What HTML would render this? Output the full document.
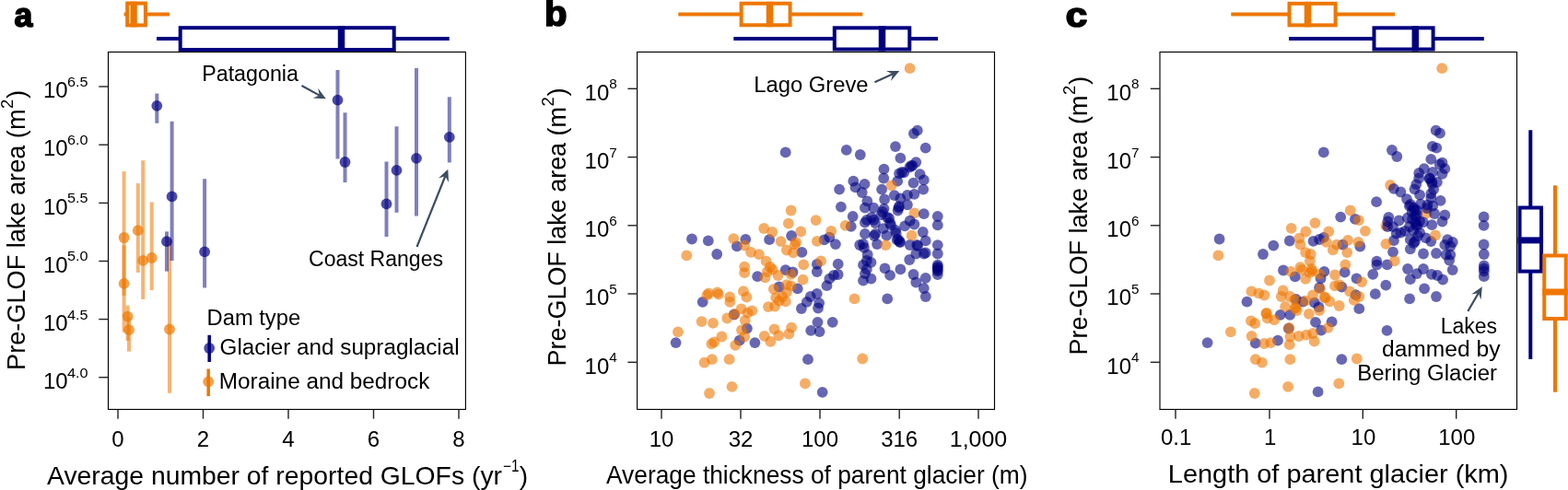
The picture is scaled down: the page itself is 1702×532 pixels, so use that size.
<!DOCTYPE html>
<html><head><meta charset="utf-8"><title>Figure</title>
<style>
html,body{margin:0;padding:0;background:#fff;overflow:hidden;}
svg{display:block;}
svg text{font-family:"Liberation Sans", Arial, sans-serif;}
</style></head>
<body>
<svg width="1702" height="532" viewBox="0 0 1702 532">
<rect x="0" y="0" width="1702" height="532" fill="#fff"/>
<rect x="117.5" y="56.5" width="387.9" height="388.0" fill="none" stroke="#000" stroke-width="1.15"/>
<rect x="691.6" y="56.5" width="387.9" height="388.0" fill="none" stroke="#000" stroke-width="1.15"/>
<rect x="1259.0" y="56.5" width="387.5" height="388.0" fill="none" stroke="#000" stroke-width="1.15"/>
<line x1="107.3" y1="94.0" x2="117.5" y2="94.0" stroke="#222" stroke-width="1.4"/>
<line x1="107.3" y1="157.2" x2="117.5" y2="157.2" stroke="#222" stroke-width="1.4"/>
<line x1="107.3" y1="220.4" x2="117.5" y2="220.4" stroke="#222" stroke-width="1.4"/>
<line x1="107.3" y1="283.5" x2="117.5" y2="283.5" stroke="#222" stroke-width="1.4"/>
<line x1="107.3" y1="346.6" x2="117.5" y2="346.6" stroke="#222" stroke-width="1.4"/>
<line x1="107.3" y1="409.7" x2="117.5" y2="409.7" stroke="#222" stroke-width="1.4"/>
<line x1="681.4" y1="96.3" x2="691.6" y2="96.3" stroke="#222" stroke-width="1.4"/>
<line x1="681.4" y1="170.6" x2="691.6" y2="170.6" stroke="#222" stroke-width="1.4"/>
<line x1="681.4" y1="244.8" x2="691.6" y2="244.8" stroke="#222" stroke-width="1.4"/>
<line x1="681.4" y1="319.0" x2="691.6" y2="319.0" stroke="#222" stroke-width="1.4"/>
<line x1="681.4" y1="393.3" x2="691.6" y2="393.3" stroke="#222" stroke-width="1.4"/>
<line x1="1248.8" y1="96.3" x2="1259.0" y2="96.3" stroke="#222" stroke-width="1.4"/>
<line x1="1248.8" y1="170.6" x2="1259.0" y2="170.6" stroke="#222" stroke-width="1.4"/>
<line x1="1248.8" y1="244.8" x2="1259.0" y2="244.8" stroke="#222" stroke-width="1.4"/>
<line x1="1248.8" y1="319.0" x2="1259.0" y2="319.0" stroke="#222" stroke-width="1.4"/>
<line x1="1248.8" y1="393.3" x2="1259.0" y2="393.3" stroke="#222" stroke-width="1.4"/>
<line x1="128.0" y1="444.5" x2="128.0" y2="454.7" stroke="#222" stroke-width="1.4"/>
<line x1="220.5" y1="444.5" x2="220.5" y2="454.7" stroke="#222" stroke-width="1.4"/>
<line x1="313.0" y1="444.5" x2="313.0" y2="454.7" stroke="#222" stroke-width="1.4"/>
<line x1="405.5" y1="444.5" x2="405.5" y2="454.7" stroke="#222" stroke-width="1.4"/>
<line x1="498.0" y1="444.5" x2="498.0" y2="454.7" stroke="#222" stroke-width="1.4"/>
<line x1="718.0" y1="444.5" x2="718.0" y2="454.7" stroke="#222" stroke-width="1.4"/>
<line x1="804.0" y1="444.5" x2="804.0" y2="454.7" stroke="#222" stroke-width="1.4"/>
<line x1="890.0" y1="444.5" x2="890.0" y2="454.7" stroke="#222" stroke-width="1.4"/>
<line x1="976.2" y1="444.5" x2="976.2" y2="454.7" stroke="#222" stroke-width="1.4"/>
<line x1="1062.0" y1="444.5" x2="1062.0" y2="454.7" stroke="#222" stroke-width="1.4"/>
<line x1="1276.0" y1="444.5" x2="1276.0" y2="454.7" stroke="#222" stroke-width="1.4"/>
<line x1="1378.0" y1="444.5" x2="1378.0" y2="454.7" stroke="#222" stroke-width="1.4"/>
<line x1="1479.3" y1="444.5" x2="1479.3" y2="454.7" stroke="#222" stroke-width="1.4"/>
<line x1="1580.7" y1="444.5" x2="1580.7" y2="454.7" stroke="#222" stroke-width="1.4"/>
<text x="128.0" y="485.0" font-size="24" text-anchor="middle" fill="#000">0</text>
<text x="220.5" y="485.0" font-size="24" text-anchor="middle" fill="#000">2</text>
<text x="313.0" y="485.0" font-size="24" text-anchor="middle" fill="#000">4</text>
<text x="405.5" y="485.0" font-size="24" text-anchor="middle" fill="#000">6</text>
<text x="498.0" y="485.0" font-size="24" text-anchor="middle" fill="#000">8</text>
<text x="718.0" y="484.8" font-size="24" text-anchor="middle" fill="#000">10</text>
<text x="804.0" y="484.8" font-size="24" text-anchor="middle" fill="#000">32</text>
<text x="890.0" y="484.8" font-size="24" text-anchor="middle" fill="#000">100</text>
<text x="976.2" y="484.8" font-size="24" text-anchor="middle" fill="#000">316</text>
<text x="1062.0" y="484.8" font-size="24" text-anchor="middle" textLength="62.5" lengthAdjust="spacingAndGlyphs" fill="#000">1,000</text>
<text x="1276.6" y="482.9" font-size="24" text-anchor="middle" fill="#000">0.1</text>
<text x="1378.6" y="482.9" font-size="24" text-anchor="middle" fill="#000">1</text>
<text x="1479.8999999999999" y="482.9" font-size="24" text-anchor="middle" fill="#000">10</text>
<text x="1581.3" y="482.9" font-size="24" text-anchor="middle" fill="#000">100</text>
<text x="95.5" y="93.9" font-size="15.3" text-anchor="end" textLength="22.6" lengthAdjust="spacingAndGlyphs">6.5</text>
<text x="73.60000000000001" y="106.2" font-size="24" text-anchor="end">10</text>
<text x="95.5" y="157.1" font-size="15.3" text-anchor="end" textLength="22.6" lengthAdjust="spacingAndGlyphs">6.0</text>
<text x="73.60000000000001" y="169.39999999999998" font-size="24" text-anchor="end">10</text>
<text x="95.5" y="220.3" font-size="15.3" text-anchor="end" textLength="22.6" lengthAdjust="spacingAndGlyphs">5.5</text>
<text x="73.60000000000001" y="232.6" font-size="24" text-anchor="end">10</text>
<text x="95.5" y="283.4" font-size="15.3" text-anchor="end" textLength="22.6" lengthAdjust="spacingAndGlyphs">5.0</text>
<text x="73.60000000000001" y="295.7" font-size="24" text-anchor="end">10</text>
<text x="95.5" y="346.5" font-size="15.3" text-anchor="end" textLength="22.6" lengthAdjust="spacingAndGlyphs">4.5</text>
<text x="73.60000000000001" y="358.8" font-size="24" text-anchor="end">10</text>
<text x="95.5" y="409.59999999999997" font-size="15.3" text-anchor="end" textLength="22.6" lengthAdjust="spacingAndGlyphs">4.0</text>
<text x="73.60000000000001" y="421.9" font-size="24" text-anchor="end">10</text>
<text x="669.8" y="96.2" font-size="15.3" text-anchor="end">8</text>
<text x="661.3" y="108.5" font-size="24" text-anchor="end">10</text>
<text x="669.8" y="170.5" font-size="15.3" text-anchor="end">7</text>
<text x="661.3" y="182.79999999999998" font-size="24" text-anchor="end">10</text>
<text x="669.8" y="244.70000000000002" font-size="15.3" text-anchor="end">6</text>
<text x="661.3" y="257.0" font-size="24" text-anchor="end">10</text>
<text x="669.8" y="318.9" font-size="15.3" text-anchor="end">5</text>
<text x="661.3" y="331.2" font-size="24" text-anchor="end">10</text>
<text x="669.8" y="393.2" font-size="15.3" text-anchor="end">4</text>
<text x="661.3" y="405.5" font-size="24" text-anchor="end">10</text>
<text x="1236.5" y="96.2" font-size="15.3" text-anchor="end">8</text>
<text x="1228.0" y="108.5" font-size="24" text-anchor="end">10</text>
<text x="1236.5" y="170.5" font-size="15.3" text-anchor="end">7</text>
<text x="1228.0" y="182.79999999999998" font-size="24" text-anchor="end">10</text>
<text x="1236.5" y="244.70000000000002" font-size="15.3" text-anchor="end">6</text>
<text x="1228.0" y="257.0" font-size="24" text-anchor="end">10</text>
<text x="1236.5" y="318.9" font-size="15.3" text-anchor="end">5</text>
<text x="1228.0" y="331.2" font-size="24" text-anchor="end">10</text>
<text x="1236.5" y="393.2" font-size="15.3" text-anchor="end">4</text>
<text x="1228.0" y="405.5" font-size="24" text-anchor="end">10</text>
<text x="51.0" y="525.8" font-size="28" textLength="494.0" lengthAdjust="spacingAndGlyphs" fill="#000">Average number of reported GLOFs (yr</text>
<text x="546.0" y="512.0" font-size="17.5" textLength="17.5" lengthAdjust="spacingAndGlyphs" fill="#000">−1</text>
<text x="563.8" y="525.8" font-size="28" fill="#000">)</text>
<text x="658.0" y="524.8" font-size="28" textLength="457.5" lengthAdjust="spacingAndGlyphs" fill="#000">Average thickness of parent glacier (m)</text>
<text x="1267.8" y="524.3" font-size="28" textLength="369.70000000000005" lengthAdjust="spacingAndGlyphs" fill="#000">Length of parent glacier (km)</text>
<g transform="translate(27.0,401.9) rotate(-90)">
<text x="0" y="0" font-size="28" textLength="283.4" lengthAdjust="spacingAndGlyphs" fill="#000">Pre-GLOF lake area (m</text>
<text x="284.0" y="-13.0" font-size="18.5" fill="#000">2</text>
<text x="295.0" y="0" font-size="28" fill="#000">)</text>
</g>
<g transform="translate(614.0,397.4) rotate(-90)">
<text x="0" y="0" font-size="28" textLength="281.4" lengthAdjust="spacingAndGlyphs" fill="#000">Pre-GLOF lake area (m</text>
<text x="282.0" y="-13.0" font-size="18.5" fill="#000">2</text>
<text x="293.0" y="0" font-size="28" fill="#000">)</text>
</g>
<g transform="translate(1180.3,385.6) rotate(-90)">
<text x="0" y="0" font-size="28" textLength="282.1" lengthAdjust="spacingAndGlyphs" fill="#000">Pre-GLOF lake area (m</text>
<text x="282.70000000000005" y="-13.0" font-size="18.5" fill="#000">2</text>
<text x="293.70000000000005" y="0" font-size="28" fill="#000">)</text>
</g>
<text x="15.6" y="28.7" font-size="36" font-weight="bold" textLength="19.8" lengthAdjust="spacingAndGlyphs" fill="#000" stroke="#000" stroke-width="1.7" stroke-linejoin="round">a</text>
<text x="591.0" y="28.3" font-size="38" font-weight="bold" textLength="24.5" lengthAdjust="spacingAndGlyphs" fill="#000" stroke="#000" stroke-width="1.7" stroke-linejoin="round">b</text>
<text x="1156.8" y="28.7" font-size="36" font-weight="bold" textLength="23.5" lengthAdjust="spacingAndGlyphs" fill="#000" stroke="#000" stroke-width="1.7" stroke-linejoin="round">c</text>
<line x1="134.6" y1="15.5" x2="183.9" y2="15.5" stroke="#ee7700" stroke-width="4.0"/>
<rect x="138.2" y="3.5999999999999996" width="19.700000000000017" height="23.8" fill="#fff" stroke="#ee7700" stroke-width="4.0"/>
<rect x="141.25" y="1.5999999999999996" width="7.5" height="27.8" fill="#ee7700"/>
<rect x="140.2" y="5.8" width="1.1" height="19.6" fill="#fff"/>
<line x1="170.0" y1="42.1" x2="487.7" y2="42.1" stroke="#000080" stroke-width="4.0"/>
<rect x="195.7" y="30.200000000000003" width="232.0" height="23.8" fill="#fff" stroke="#000080" stroke-width="4.0"/>
<rect x="366.75" y="28.200000000000003" width="7.5" height="27.8" fill="#000080"/>
<line x1="736.3" y1="15.5" x2="936.3" y2="15.5" stroke="#ee7700" stroke-width="4.0"/>
<rect x="804.6" y="3.75" width="53.0" height="23.5" fill="#fff" stroke="#ee7700" stroke-width="4.0"/>
<rect x="831.75" y="1.75" width="7.5" height="27.5" fill="#ee7700"/>
<line x1="796.3" y1="41.9" x2="1018.0" y2="41.9" stroke="#000080" stroke-width="4.0"/>
<rect x="905.8" y="30.299999999999997" width="81.5" height="23.2" fill="#fff" stroke="#000080" stroke-width="4.0"/>
<rect x="953.75" y="28.299999999999997" width="7.5" height="27.2" fill="#000080"/>
<line x1="1336.3" y1="15.6" x2="1514.0" y2="15.6" stroke="#ee7700" stroke-width="4.0"/>
<rect x="1399.5" y="3.8499999999999996" width="50.09999999999991" height="23.5" fill="#fff" stroke="#ee7700" stroke-width="4.0"/>
<rect x="1415.75" y="1.8499999999999996" width="7.5" height="27.5" fill="#ee7700"/>
<line x1="1399.0" y1="41.9" x2="1610.8" y2="41.9" stroke="#000080" stroke-width="4.0"/>
<rect x="1491.5" y="30.299999999999997" width="64.09999999999991" height="23.2" fill="#fff" stroke="#000080" stroke-width="4.0"/>
<rect x="1532.55" y="28.299999999999997" width="7.5" height="27.2" fill="#000080"/>
<line x1="1661.3" y1="141.3" x2="1661.3" y2="390.0" stroke="#000080" stroke-width="4.0"/>
<rect x="1649.55" y="225.5" width="23.5" height="69.10000000000002" fill="#fff" stroke="#000080" stroke-width="4.0"/>
<rect x="1647.55" y="257.4" width="27.5" height="7.0" fill="#000080"/>
<line x1="1688.0" y1="201.3" x2="1688.0" y2="425.7" stroke="#ee7700" stroke-width="4.0"/>
<rect x="1676.25" y="277.5" width="23.5" height="68.5" fill="#fff" stroke="#ee7700" stroke-width="4.0"/>
<rect x="1674.25" y="313.5" width="27.5" height="7.0" fill="#ee7700"/>
<rect x="132.6" y="186.1" width="4.0" height="134.9" fill="#ee7700" fill-opacity="0.55"/>
<rect x="132.6" y="266.5" width="4.0" height="94.0" fill="#ee7700" fill-opacity="0.55"/>
<rect x="136.6" y="331.7" width="4.0" height="38.30000000000001" fill="#ee7700" fill-opacity="0.55"/>
<rect x="138.0" y="345.0" width="4.0" height="36.60000000000002" fill="#ee7700" fill-opacity="0.55"/>
<rect x="147.8" y="199.0" width="4.0" height="96.89999999999998" fill="#ee7700" fill-opacity="0.55"/>
<rect x="153.2" y="174.2" width="4.0" height="150.8" fill="#ee7700" fill-opacity="0.55"/>
<rect x="162.7" y="219.4" width="4.0" height="95.6" fill="#ee7700" fill-opacity="0.55"/>
<rect x="182.0" y="259.2" width="4.0" height="167.60000000000002" fill="#ee7700" fill-opacity="0.55"/>
<circle cx="134.6" cy="258.0" r="5.9" fill="#ee7700" fill-opacity="0.7"/>
<circle cx="134.6" cy="307.8" r="5.9" fill="#ee7700" fill-opacity="0.7"/>
<circle cx="138.6" cy="343.6" r="5.9" fill="#ee7700" fill-opacity="0.7"/>
<circle cx="140.0" cy="358.2" r="5.9" fill="#ee7700" fill-opacity="0.7"/>
<circle cx="149.8" cy="250.2" r="5.9" fill="#ee7700" fill-opacity="0.7"/>
<circle cx="155.2" cy="282.9" r="5.9" fill="#ee7700" fill-opacity="0.7"/>
<circle cx="164.7" cy="280.0" r="5.9" fill="#ee7700" fill-opacity="0.7"/>
<circle cx="184.0" cy="357.5" r="5.9" fill="#ee7700" fill-opacity="0.7"/>
<rect x="168.3" y="101.5" width="4.0" height="32.30000000000001" fill="#000080" fill-opacity="0.5"/>
<rect x="184.6" y="131.8" width="4.0" height="151.2" fill="#000080" fill-opacity="0.5"/>
<rect x="179.0" y="251.4" width="4.0" height="43.20000000000002" fill="#000080" fill-opacity="0.5"/>
<rect x="220.1" y="194.2" width="4.0" height="118.30000000000001" fill="#000080" fill-opacity="0.5"/>
<rect x="364.5" y="76.0" width="4.0" height="96.5" fill="#000080" fill-opacity="0.5"/>
<rect x="372.5" y="122.3" width="4.0" height="75.7" fill="#000080" fill-opacity="0.5"/>
<rect x="417.5" y="175.5" width="4.0" height="81.5" fill="#000080" fill-opacity="0.5"/>
<rect x="428.5" y="137.3" width="4.0" height="93.5" fill="#000080" fill-opacity="0.5"/>
<rect x="450.0" y="74.0" width="4.0" height="160.5" fill="#000080" fill-opacity="0.5"/>
<rect x="485.8" y="105.3" width="4.0" height="71.2" fill="#000080" fill-opacity="0.5"/>
<circle cx="170.3" cy="114.8" r="5.9" fill="#000080" fill-opacity="0.7"/>
<circle cx="186.6" cy="213.3" r="5.9" fill="#000080" fill-opacity="0.7"/>
<circle cx="181.0" cy="262.2" r="5.9" fill="#000080" fill-opacity="0.7"/>
<circle cx="222.1" cy="273.3" r="5.9" fill="#000080" fill-opacity="0.7"/>
<circle cx="366.5" cy="108.6" r="5.9" fill="#000080" fill-opacity="0.7"/>
<circle cx="374.5" cy="176.0" r="5.9" fill="#000080" fill-opacity="0.7"/>
<circle cx="419.5" cy="221.3" r="5.9" fill="#000080" fill-opacity="0.7"/>
<circle cx="430.5" cy="184.8" r="5.9" fill="#000080" fill-opacity="0.7"/>
<circle cx="452.0" cy="171.8" r="5.9" fill="#000080" fill-opacity="0.7"/>
<circle cx="487.8" cy="148.8" r="5.9" fill="#000080" fill-opacity="0.7"/>
<rect x="225.45" y="363.8" width="3.5" height="29.2" fill="#000080"/>
<circle cx="227.2" cy="378.0" r="5.9" fill="#000080" fill-opacity="0.7"/>
<rect x="224.45" y="400.5" width="3.5" height="29.6" fill="#ee7700"/>
<circle cx="226.2" cy="414.3" r="5.9" fill="#ee7700" fill-opacity="0.7"/>
<text x="224.6" y="353.0" font-size="23" textLength="101.5" lengthAdjust="spacingAndGlyphs" fill="#000">Dam type</text>
<text x="238.6" y="385.0" font-size="23" textLength="260.0" lengthAdjust="spacingAndGlyphs" fill="#000">Glacier and supraglacial</text>
<text x="237.8" y="422.0" font-size="23" textLength="228.5" lengthAdjust="spacingAndGlyphs" fill="#000">Moraine and bedrock</text>
<text x="219.2" y="88.0" font-size="23" textLength="104.8" lengthAdjust="spacingAndGlyphs" fill="#000">Patagonia</text>
<text x="335.0" y="288.8" font-size="23" textLength="146.0" lengthAdjust="spacingAndGlyphs" fill="#000">Coast Ranges</text>
<text x="818.2" y="100.0" font-size="23" textLength="124.4" lengthAdjust="spacingAndGlyphs" fill="#000">Lago Greve</text>
<text x="1625.0" y="361.6" font-size="23" text-anchor="end" fill="#000">Lakes</text>
<text x="1628.5" y="387.3" font-size="23" text-anchor="end" textLength="128.5" lengthAdjust="spacingAndGlyphs" fill="#000">dammed by</text>
<text x="1625.0" y="412.8" font-size="23" text-anchor="end" textLength="151.8" lengthAdjust="spacingAndGlyphs" fill="#000">Bering Glacier</text>
<line x1="327.5" y1="93.0" x2="346.9" y2="103.6" stroke="#3c4d62" stroke-width="2.2"/>
<path d="M353.8,107.3 L339.5,106.4 L346.7,103.4 L345.2,95.8 Z" fill="#3c4d62"/>
<line x1="452.5" y1="268.0" x2="483.4" y2="191.0" stroke="#3c4d62" stroke-width="2.2"/>
<path d="M486.3,183.8 L487.0,198.1 L483.3,191.3 L475.9,193.6 Z" fill="#3c4d62"/>
<line x1="949.5" y1="89.3" x2="969.2" y2="80.3" stroke="#3c4d62" stroke-width="2.2"/>
<path d="M976.3,77.0 L967.0,87.9 L969.0,80.4 L962.0,77.0 Z" fill="#3c4d62"/>
<line x1="1593.3" y1="338.0" x2="1604.9" y2="318.0" stroke="#3c4d62" stroke-width="2.2"/>
<path d="M1608.8,311.3 L1607.5,325.6 L1604.8,318.3 L1597.1,319.5 Z" fill="#3c4d62"/>
<circle cx="992.5" cy="231.5" r="5.9" fill="#ee7700" fill-opacity="0.6"/>
<circle cx="918.8" cy="162.9" r="5.9" fill="#000080" fill-opacity="0.6"/>
<circle cx="933.8" cy="168" r="5.9" fill="#000080" fill-opacity="0.6"/>
<circle cx="972" cy="159.1" r="5.9" fill="#000080" fill-opacity="0.6"/>
<circle cx="995.8" cy="141.7" r="5.9" fill="#000080" fill-opacity="0.6"/>
<circle cx="991.9" cy="145" r="5.9" fill="#000080" fill-opacity="0.6"/>
<circle cx="1004.7" cy="160.6" r="5.9" fill="#000080" fill-opacity="0.6"/>
<circle cx="977.4" cy="171.7" r="5.9" fill="#000080" fill-opacity="0.6"/>
<circle cx="994.3" cy="176.1" r="5.9" fill="#000080" fill-opacity="0.6"/>
<circle cx="990.6" cy="179.8" r="5.9" fill="#000080" fill-opacity="0.6"/>
<circle cx="987.4" cy="181.7" r="5.9" fill="#000080" fill-opacity="0.6"/>
<circle cx="959.5" cy="183.6" r="5.9" fill="#000080" fill-opacity="0.6"/>
<circle cx="981.2" cy="187.3" r="5.9" fill="#000080" fill-opacity="0.6"/>
<circle cx="976.1" cy="188.3" r="5.9" fill="#000080" fill-opacity="0.6"/>
<circle cx="998.6" cy="189.2" r="5.9" fill="#000080" fill-opacity="0.6"/>
<circle cx="1002.8" cy="195.4" r="5.9" fill="#000080" fill-opacity="0.6"/>
<circle cx="959.2" cy="193.5" r="5.9" fill="#000080" fill-opacity="0.6"/>
<circle cx="974.2" cy="196.7" r="5.9" fill="#000080" fill-opacity="0.6"/>
<circle cx="991.5" cy="198.6" r="5.9" fill="#000080" fill-opacity="0.6"/>
<circle cx="926.3" cy="196.7" r="5.9" fill="#000080" fill-opacity="0.6"/>
<circle cx="938.5" cy="199.9" r="5.9" fill="#000080" fill-opacity="0.6"/>
<circle cx="928.5" cy="203.3" r="5.9" fill="#000080" fill-opacity="0.6"/>
<circle cx="911.1" cy="205.6" r="5.9" fill="#000080" fill-opacity="0.6"/>
<circle cx="935.7" cy="209" r="5.9" fill="#000080" fill-opacity="0.6"/>
<circle cx="957.1" cy="205.6" r="5.9" fill="#000080" fill-opacity="0.6"/>
<circle cx="1002.2" cy="205.6" r="5.9" fill="#000080" fill-opacity="0.6"/>
<circle cx="992.4" cy="210.8" r="5.9" fill="#000080" fill-opacity="0.6"/>
<circle cx="984.9" cy="211.8" r="5.9" fill="#000080" fill-opacity="0.6"/>
<circle cx="970.8" cy="212.1" r="5.9" fill="#000080" fill-opacity="0.6"/>
<circle cx="960.1" cy="216.5" r="5.9" fill="#000080" fill-opacity="0.6"/>
<circle cx="977.4" cy="215.5" r="5.9" fill="#000080" fill-opacity="0.6"/>
<circle cx="941.3" cy="218.3" r="5.9" fill="#000080" fill-opacity="0.6"/>
<circle cx="912.9" cy="224.7" r="5.9" fill="#000080" fill-opacity="0.6"/>
<circle cx="925.7" cy="235" r="5.9" fill="#000080" fill-opacity="0.6"/>
<circle cx="923.8" cy="245.9" r="5.9" fill="#000080" fill-opacity="0.6"/>
<circle cx="938.9" cy="225.6" r="5.9" fill="#000080" fill-opacity="0.6"/>
<circle cx="948.3" cy="225.6" r="5.9" fill="#000080" fill-opacity="0.6"/>
<circle cx="959.5" cy="226.6" r="5.9" fill="#000080" fill-opacity="0.6"/>
<circle cx="975.5" cy="225.6" r="5.9" fill="#000080" fill-opacity="0.6"/>
<circle cx="984.9" cy="222.3" r="5.9" fill="#000080" fill-opacity="0.6"/>
<circle cx="974.6" cy="228.5" r="5.9" fill="#000080" fill-opacity="0.6"/>
<circle cx="940.8" cy="238.8" r="5.9" fill="#000080" fill-opacity="0.6"/>
<circle cx="948.3" cy="238.8" r="5.9" fill="#000080" fill-opacity="0.6"/>
<circle cx="956.7" cy="233.2" r="5.9" fill="#000080" fill-opacity="0.6"/>
<circle cx="965.2" cy="236.9" r="5.9" fill="#000080" fill-opacity="0.6"/>
<circle cx="967.1" cy="244.4" r="5.9" fill="#000080" fill-opacity="0.6"/>
<circle cx="938.9" cy="241.6" r="5.9" fill="#000080" fill-opacity="0.6"/>
<circle cx="958.6" cy="248.2" r="5.9" fill="#000080" fill-opacity="0.6"/>
<circle cx="938.9" cy="253.8" r="5.9" fill="#000080" fill-opacity="0.6"/>
<circle cx="950.2" cy="253.8" r="5.9" fill="#000080" fill-opacity="0.6"/>
<circle cx="962.4" cy="255.7" r="5.9" fill="#000080" fill-opacity="0.6"/>
<circle cx="972.7" cy="252.9" r="5.9" fill="#000080" fill-opacity="0.6"/>
<circle cx="982.1" cy="245.4" r="5.9" fill="#000080" fill-opacity="0.6"/>
<circle cx="987.7" cy="239.7" r="5.9" fill="#000080" fill-opacity="0.6"/>
<circle cx="992.4" cy="243.5" r="5.9" fill="#000080" fill-opacity="0.6"/>
<circle cx="1002.8" cy="232.2" r="5.9" fill="#000080" fill-opacity="0.6"/>
<circle cx="1017.8" cy="235" r="5.9" fill="#000080" fill-opacity="0.6"/>
<circle cx="1017.8" cy="244.4" r="5.9" fill="#000080" fill-opacity="0.6"/>
<circle cx="1001.8" cy="252" r="5.9" fill="#000080" fill-opacity="0.6"/>
<circle cx="1004.7" cy="261.4" r="5.9" fill="#000080" fill-opacity="0.6"/>
<circle cx="996.2" cy="267" r="5.9" fill="#000080" fill-opacity="0.6"/>
<circle cx="1002.8" cy="275.5" r="5.9" fill="#000080" fill-opacity="0.6"/>
<circle cx="1004.7" cy="274.5" r="5.9" fill="#000080" fill-opacity="0.6"/>
<circle cx="994.3" cy="275.5" r="5.9" fill="#000080" fill-opacity="0.6"/>
<circle cx="987.2" cy="282" r="5.9" fill="#000080" fill-opacity="0.6"/>
<circle cx="1017.8" cy="266.1" r="5.9" fill="#000080" fill-opacity="0.6"/>
<circle cx="1017.8" cy="275.5" r="5.9" fill="#000080" fill-opacity="0.6"/>
<circle cx="1017.8" cy="287.7" r="5.9" fill="#000080" fill-opacity="0.6"/>
<circle cx="1017.8" cy="289.5" r="5.9" fill="#000080" fill-opacity="0.6"/>
<circle cx="1017.8" cy="291" r="5.9" fill="#000080" fill-opacity="0.6"/>
<circle cx="1017.8" cy="292.8" r="5.9" fill="#000080" fill-opacity="0.6"/>
<circle cx="1017.8" cy="294.4" r="5.9" fill="#000080" fill-opacity="0.6"/>
<circle cx="1017.8" cy="298" r="5.9" fill="#000080" fill-opacity="0.6"/>
<circle cx="976.5" cy="262.3" r="5.9" fill="#000080" fill-opacity="0.6"/>
<circle cx="973.6" cy="260.4" r="5.9" fill="#000080" fill-opacity="0.6"/>
<circle cx="987.7" cy="266" r="5.9" fill="#000080" fill-opacity="0.6"/>
<circle cx="995.3" cy="266" r="5.9" fill="#000080" fill-opacity="0.6"/>
<circle cx="952" cy="265.1" r="5.9" fill="#000080" fill-opacity="0.6"/>
<circle cx="933.2" cy="266" r="5.9" fill="#000080" fill-opacity="0.6"/>
<circle cx="937.9" cy="268.9" r="5.9" fill="#000080" fill-opacity="0.6"/>
<circle cx="941.7" cy="276.4" r="5.9" fill="#000080" fill-opacity="0.6"/>
<circle cx="940.8" cy="283" r="5.9" fill="#000080" fill-opacity="0.6"/>
<circle cx="945.5" cy="284.9" r="5.9" fill="#000080" fill-opacity="0.6"/>
<circle cx="937" cy="287.7" r="5.9" fill="#000080" fill-opacity="0.6"/>
<circle cx="940.8" cy="292.4" r="5.9" fill="#000080" fill-opacity="0.6"/>
<circle cx="938.9" cy="297.1" r="5.9" fill="#000080" fill-opacity="0.6"/>
<circle cx="945.5" cy="302.7" r="5.9" fill="#000080" fill-opacity="0.6"/>
<circle cx="937" cy="304.6" r="5.9" fill="#000080" fill-opacity="0.6"/>
<circle cx="960.5" cy="291.4" r="5.9" fill="#000080" fill-opacity="0.6"/>
<circle cx="966.1" cy="298.9" r="5.9" fill="#000080" fill-opacity="0.6"/>
<circle cx="977.4" cy="292.4" r="5.9" fill="#000080" fill-opacity="0.6"/>
<circle cx="991.5" cy="298" r="5.9" fill="#000080" fill-opacity="0.6"/>
<circle cx="994.3" cy="306.5" r="5.9" fill="#000080" fill-opacity="0.6"/>
<circle cx="1004.7" cy="301.8" r="5.9" fill="#000080" fill-opacity="0.6"/>
<circle cx="1002.8" cy="313" r="5.9" fill="#000080" fill-opacity="0.6"/>
<circle cx="909.7" cy="286.7" r="5.9" fill="#000080" fill-opacity="0.6"/>
<circle cx="909.7" cy="298" r="5.9" fill="#000080" fill-opacity="0.6"/>
<circle cx="905" cy="298.9" r="5.9" fill="#000080" fill-opacity="0.6"/>
<circle cx="900.3" cy="302.7" r="5.9" fill="#000080" fill-opacity="0.6"/>
<circle cx="897.5" cy="310.2" r="5.9" fill="#000080" fill-opacity="0.6"/>
<circle cx="906.9" cy="265.1" r="5.9" fill="#000080" fill-opacity="0.6"/>
<circle cx="894.7" cy="260.4" r="5.9" fill="#000080" fill-opacity="0.6"/>
<circle cx="900.3" cy="257.6" r="5.9" fill="#000080" fill-opacity="0.6"/>
<circle cx="852.7" cy="165.4" r="5.9" fill="#000080" fill-opacity="0.6"/>
<circle cx="886.8" cy="286.8" r="5.9" fill="#000080" fill-opacity="0.6"/>
<circle cx="886.8" cy="295" r="5.9" fill="#000080" fill-opacity="0.6"/>
<circle cx="870.4" cy="273.9" r="5.9" fill="#000080" fill-opacity="0.6"/>
<circle cx="859.1" cy="256" r="5.9" fill="#000080" fill-opacity="0.6"/>
<circle cx="835.1" cy="260.2" r="5.9" fill="#000080" fill-opacity="0.6"/>
<circle cx="809.3" cy="259.8" r="5.9" fill="#000080" fill-opacity="0.6"/>
<circle cx="799.9" cy="267.3" r="5.9" fill="#000080" fill-opacity="0.6"/>
<circle cx="778.2" cy="276" r="5.9" fill="#000080" fill-opacity="0.6"/>
<circle cx="768.8" cy="261.4" r="5.9" fill="#000080" fill-opacity="0.6"/>
<circle cx="751" cy="259.5" r="5.9" fill="#000080" fill-opacity="0.6"/>
<circle cx="852.7" cy="293.1" r="5.9" fill="#000080" fill-opacity="0.6"/>
<circle cx="860.5" cy="295.5" r="5.9" fill="#000080" fill-opacity="0.6"/>
<circle cx="822.2" cy="300.2" r="5.9" fill="#000080" fill-opacity="0.6"/>
<circle cx="886.8" cy="319" r="5.9" fill="#000080" fill-opacity="0.6"/>
<circle cx="879.8" cy="322" r="5.9" fill="#000080" fill-opacity="0.6"/>
<circle cx="875.8" cy="327.9" r="5.9" fill="#000080" fill-opacity="0.6"/>
<circle cx="889.2" cy="329.1" r="5.9" fill="#000080" fill-opacity="0.6"/>
<circle cx="888" cy="334.5" r="5.9" fill="#000080" fill-opacity="0.6"/>
<circle cx="869.9" cy="335" r="5.9" fill="#000080" fill-opacity="0.6"/>
<circle cx="865.7" cy="313.3" r="5.9" fill="#000080" fill-opacity="0.6"/>
<circle cx="845.7" cy="311.5" r="5.9" fill="#000080" fill-opacity="0.6"/>
<circle cx="963.2" cy="324.4" r="5.9" fill="#000080" fill-opacity="0.6"/>
<circle cx="1004.8" cy="322" r="5.9" fill="#000080" fill-opacity="0.6"/>
<circle cx="762.7" cy="327.9" r="5.9" fill="#000080" fill-opacity="0.6"/>
<circle cx="796.8" cy="341.5" r="5.9" fill="#000080" fill-opacity="0.6"/>
<circle cx="810.9" cy="356.6" r="5.9" fill="#000080" fill-opacity="0.6"/>
<circle cx="802.7" cy="369.7" r="5.9" fill="#000080" fill-opacity="0.6"/>
<circle cx="733.6" cy="372.1" r="5.9" fill="#000080" fill-opacity="0.6"/>
<circle cx="819.4" cy="372.1" r="5.9" fill="#000080" fill-opacity="0.6"/>
<circle cx="887.5" cy="349.8" r="5.9" fill="#000080" fill-opacity="0.6"/>
<circle cx="903.7" cy="349.8" r="5.9" fill="#000080" fill-opacity="0.6"/>
<circle cx="880.2" cy="358.9" r="5.9" fill="#000080" fill-opacity="0.6"/>
<circle cx="889.6" cy="360.1" r="5.9" fill="#000080" fill-opacity="0.6"/>
<circle cx="877" cy="390.2" r="5.9" fill="#000080" fill-opacity="0.6"/>
<circle cx="892.7" cy="425.8" r="5.9" fill="#000080" fill-opacity="0.6"/>
<circle cx="979" cy="187" r="5.9" fill="#000080" fill-opacity="0.6"/>
<circle cx="989" cy="180" r="5.9" fill="#000080" fill-opacity="0.6"/>
<circle cx="946" cy="236" r="5.9" fill="#000080" fill-opacity="0.6"/>
<circle cx="950" cy="242" r="5.9" fill="#000080" fill-opacity="0.6"/>
<circle cx="958" cy="230" r="5.9" fill="#000080" fill-opacity="0.6"/>
<circle cx="963" cy="236" r="5.9" fill="#000080" fill-opacity="0.6"/>
<circle cx="966" cy="242" r="5.9" fill="#000080" fill-opacity="0.6"/>
<circle cx="972" cy="250" r="5.9" fill="#000080" fill-opacity="0.6"/>
<circle cx="975" cy="260" r="5.9" fill="#000080" fill-opacity="0.6"/>
<circle cx="977" cy="263" r="5.9" fill="#000080" fill-opacity="0.6"/>
<circle cx="949" cy="256" r="5.9" fill="#000080" fill-opacity="0.6"/>
<circle cx="937" cy="265" r="5.9" fill="#000080" fill-opacity="0.6"/>
<circle cx="976" cy="224" r="5.9" fill="#000080" fill-opacity="0.6"/>
<circle cx="967.6" cy="201.4" r="5.9" fill="#ee7700" fill-opacity="0.6"/>
<circle cx="989.6" cy="255.7" r="5.9" fill="#ee7700" fill-opacity="0.6"/>
<circle cx="961.4" cy="266.1" r="5.9" fill="#ee7700" fill-opacity="0.6"/>
<circle cx="917.6" cy="244.8" r="5.9" fill="#ee7700" fill-opacity="0.6"/>
<circle cx="902.2" cy="251" r="5.9" fill="#ee7700" fill-opacity="0.6"/>
<circle cx="858.6" cy="228.5" r="5.9" fill="#ee7700" fill-opacity="0.6"/>
<circle cx="885.6" cy="239.1" r="5.9" fill="#ee7700" fill-opacity="0.6"/>
<circle cx="855.8" cy="242.6" r="5.9" fill="#ee7700" fill-opacity="0.6"/>
<circle cx="829.2" cy="248" r="5.9" fill="#ee7700" fill-opacity="0.6"/>
<circle cx="838.2" cy="252" r="5.9" fill="#ee7700" fill-opacity="0.6"/>
<circle cx="869.2" cy="251.5" r="5.9" fill="#ee7700" fill-opacity="0.6"/>
<circle cx="796.3" cy="259.1" r="5.9" fill="#ee7700" fill-opacity="0.6"/>
<circle cx="808.1" cy="266.6" r="5.9" fill="#ee7700" fill-opacity="0.6"/>
<circle cx="847.6" cy="262.1" r="5.9" fill="#ee7700" fill-opacity="0.6"/>
<circle cx="862.8" cy="265.4" r="5.9" fill="#ee7700" fill-opacity="0.6"/>
<circle cx="864" cy="263" r="5.9" fill="#ee7700" fill-opacity="0.6"/>
<circle cx="886.8" cy="261.9" r="5.9" fill="#ee7700" fill-opacity="0.6"/>
<circle cx="853.9" cy="271.5" r="5.9" fill="#ee7700" fill-opacity="0.6"/>
<circle cx="861" cy="274.3" r="5.9" fill="#ee7700" fill-opacity="0.6"/>
<circle cx="815.1" cy="273.9" r="5.9" fill="#ee7700" fill-opacity="0.6"/>
<circle cx="823.8" cy="276.2" r="5.9" fill="#ee7700" fill-opacity="0.6"/>
<circle cx="745.3" cy="277.4" r="5.9" fill="#ee7700" fill-opacity="0.6"/>
<circle cx="831.6" cy="283.7" r="5.9" fill="#ee7700" fill-opacity="0.6"/>
<circle cx="808.1" cy="289.6" r="5.9" fill="#ee7700" fill-opacity="0.6"/>
<circle cx="808.1" cy="296.2" r="5.9" fill="#ee7700" fill-opacity="0.6"/>
<circle cx="891" cy="283.3" r="5.9" fill="#ee7700" fill-opacity="0.6"/>
<circle cx="872.2" cy="287.3" r="5.9" fill="#ee7700" fill-opacity="0.6"/>
<circle cx="838.6" cy="292.7" r="5.9" fill="#ee7700" fill-opacity="0.6"/>
<circle cx="836" cy="290" r="5.9" fill="#ee7700" fill-opacity="0.6"/>
<circle cx="832.8" cy="295" r="5.9" fill="#ee7700" fill-opacity="0.6"/>
<circle cx="844.5" cy="299" r="5.9" fill="#ee7700" fill-opacity="0.6"/>
<circle cx="858.6" cy="297.8" r="5.9" fill="#ee7700" fill-opacity="0.6"/>
<circle cx="871.5" cy="303.7" r="5.9" fill="#ee7700" fill-opacity="0.6"/>
<circle cx="830.4" cy="301.4" r="5.9" fill="#ee7700" fill-opacity="0.6"/>
<circle cx="853.9" cy="309.1" r="5.9" fill="#ee7700" fill-opacity="0.6"/>
<circle cx="839.8" cy="313.8" r="5.9" fill="#ee7700" fill-opacity="0.6"/>
<circle cx="858.6" cy="310.3" r="5.9" fill="#ee7700" fill-opacity="0.6"/>
<circle cx="853.9" cy="317.3" r="5.9" fill="#ee7700" fill-opacity="0.6"/>
<circle cx="769.3" cy="318.5" r="5.9" fill="#ee7700" fill-opacity="0.6"/>
<circle cx="778.7" cy="317.3" r="5.9" fill="#ee7700" fill-opacity="0.6"/>
<circle cx="779.9" cy="319.7" r="5.9" fill="#ee7700" fill-opacity="0.6"/>
<circle cx="767.4" cy="320.4" r="5.9" fill="#ee7700" fill-opacity="0.6"/>
<circle cx="792.1" cy="322.5" r="5.9" fill="#ee7700" fill-opacity="0.6"/>
<circle cx="792.3" cy="327.9" r="5.9" fill="#ee7700" fill-opacity="0.6"/>
<circle cx="806.9" cy="316.2" r="5.9" fill="#ee7700" fill-opacity="0.6"/>
<circle cx="810.4" cy="322.7" r="5.9" fill="#ee7700" fill-opacity="0.6"/>
<circle cx="842.2" cy="323.2" r="5.9" fill="#ee7700" fill-opacity="0.6"/>
<circle cx="849.2" cy="322" r="5.9" fill="#ee7700" fill-opacity="0.6"/>
<circle cx="852.7" cy="327.4" r="5.9" fill="#ee7700" fill-opacity="0.6"/>
<circle cx="845.7" cy="326.7" r="5.9" fill="#ee7700" fill-opacity="0.6"/>
<circle cx="833.9" cy="333.1" r="5.9" fill="#ee7700" fill-opacity="0.6"/>
<circle cx="841" cy="332.6" r="5.9" fill="#ee7700" fill-opacity="0.6"/>
<circle cx="804.6" cy="335.4" r="5.9" fill="#ee7700" fill-opacity="0.6"/>
<circle cx="811.6" cy="339.7" r="5.9" fill="#ee7700" fill-opacity="0.6"/>
<circle cx="816.3" cy="337.3" r="5.9" fill="#ee7700" fill-opacity="0.6"/>
<circle cx="797.5" cy="340.8" r="5.9" fill="#ee7700" fill-opacity="0.6"/>
<circle cx="789.3" cy="345.5" r="5.9" fill="#ee7700" fill-opacity="0.6"/>
<circle cx="808.8" cy="347.9" r="5.9" fill="#ee7700" fill-opacity="0.6"/>
<circle cx="761.6" cy="349.1" r="5.9" fill="#ee7700" fill-opacity="0.6"/>
<circle cx="774" cy="350.9" r="5.9" fill="#ee7700" fill-opacity="0.6"/>
<circle cx="735.9" cy="360.3" r="5.9" fill="#ee7700" fill-opacity="0.6"/>
<circle cx="805" cy="358.5" r="5.9" fill="#ee7700" fill-opacity="0.6"/>
<circle cx="808.1" cy="365.5" r="5.9" fill="#ee7700" fill-opacity="0.6"/>
<circle cx="783.4" cy="365.5" r="5.9" fill="#ee7700" fill-opacity="0.6"/>
<circle cx="840.5" cy="357.3" r="5.9" fill="#ee7700" fill-opacity="0.6"/>
<circle cx="859.1" cy="355.6" r="5.9" fill="#ee7700" fill-opacity="0.6"/>
<circle cx="856.3" cy="362.5" r="5.9" fill="#ee7700" fill-opacity="0.6"/>
<circle cx="845.2" cy="364.3" r="5.9" fill="#ee7700" fill-opacity="0.6"/>
<circle cx="829.7" cy="364.8" r="5.9" fill="#ee7700" fill-opacity="0.6"/>
<circle cx="836.3" cy="370.9" r="5.9" fill="#ee7700" fill-opacity="0.6"/>
<circle cx="772.4" cy="373.3" r="5.9" fill="#ee7700" fill-opacity="0.6"/>
<circle cx="775.2" cy="371.4" r="5.9" fill="#ee7700" fill-opacity="0.6"/>
<circle cx="798.2" cy="374.9" r="5.9" fill="#ee7700" fill-opacity="0.6"/>
<circle cx="927.5" cy="324.4" r="5.9" fill="#ee7700" fill-opacity="0.6"/>
<circle cx="772.8" cy="390.2" r="5.9" fill="#ee7700" fill-opacity="0.6"/>
<circle cx="791.6" cy="390.2" r="5.9" fill="#ee7700" fill-opacity="0.6"/>
<circle cx="764.6" cy="393.7" r="5.9" fill="#ee7700" fill-opacity="0.6"/>
<circle cx="936.2" cy="389.5" r="5.9" fill="#ee7700" fill-opacity="0.6"/>
<circle cx="794.5" cy="419.9" r="5.9" fill="#ee7700" fill-opacity="0.6"/>
<circle cx="770" cy="427" r="5.9" fill="#ee7700" fill-opacity="0.6"/>
<circle cx="873.9" cy="416.4" r="5.9" fill="#ee7700" fill-opacity="0.6"/>
<circle cx="987.6" cy="74.2" r="5.9" fill="#ee7700" fill-opacity="0.6"/>
<circle cx="1509.1" cy="201" r="5.9" fill="#ee7700" fill-opacity="0.6"/>
<circle cx="1548.6" cy="231.7" r="5.9" fill="#ee7700" fill-opacity="0.6"/>
<circle cx="1504.4" cy="245.2" r="5.9" fill="#ee7700" fill-opacity="0.6"/>
<circle cx="1516.3" cy="170" r="5.9" fill="#000080" fill-opacity="0.6"/>
<circle cx="1553.3" cy="172.8" r="5.9" fill="#000080" fill-opacity="0.6"/>
<circle cx="1565.5" cy="176.6" r="5.9" fill="#000080" fill-opacity="0.6"/>
<circle cx="1562.7" cy="178.5" r="5.9" fill="#000080" fill-opacity="0.6"/>
<circle cx="1568.3" cy="183.2" r="5.9" fill="#000080" fill-opacity="0.6"/>
<circle cx="1565.5" cy="188.8" r="5.9" fill="#000080" fill-opacity="0.6"/>
<circle cx="1545.8" cy="183.2" r="5.9" fill="#000080" fill-opacity="0.6"/>
<circle cx="1540.2" cy="187.9" r="5.9" fill="#000080" fill-opacity="0.6"/>
<circle cx="1555.2" cy="186.9" r="5.9" fill="#000080" fill-opacity="0.6"/>
<circle cx="1540.2" cy="193.5" r="5.9" fill="#000080" fill-opacity="0.6"/>
<circle cx="1551.4" cy="193.5" r="5.9" fill="#000080" fill-opacity="0.6"/>
<circle cx="1554.2" cy="197.3" r="5.9" fill="#000080" fill-opacity="0.6"/>
<circle cx="1559.9" cy="197.8" r="5.9" fill="#000080" fill-opacity="0.6"/>
<circle cx="1537.3" cy="200.1" r="5.9" fill="#000080" fill-opacity="0.6"/>
<circle cx="1535.5" cy="205.3" r="5.9" fill="#000080" fill-opacity="0.6"/>
<circle cx="1556.1" cy="205.7" r="5.9" fill="#000080" fill-opacity="0.6"/>
<circle cx="1512.9" cy="204.8" r="5.9" fill="#000080" fill-opacity="0.6"/>
<circle cx="1520.4" cy="208.5" r="5.9" fill="#000080" fill-opacity="0.6"/>
<circle cx="1553.3" cy="210.4" r="5.9" fill="#000080" fill-opacity="0.6"/>
<circle cx="1541.1" cy="211.7" r="5.9" fill="#000080" fill-opacity="0.6"/>
<circle cx="1527" cy="216.1" r="5.9" fill="#000080" fill-opacity="0.6"/>
<circle cx="1553.3" cy="215.1" r="5.9" fill="#000080" fill-opacity="0.6"/>
<circle cx="1563.6" cy="217.9" r="5.9" fill="#000080" fill-opacity="0.6"/>
<circle cx="1494.1" cy="219.2" r="5.9" fill="#000080" fill-opacity="0.6"/>
<circle cx="1529.8" cy="223.6" r="5.9" fill="#000080" fill-opacity="0.6"/>
<circle cx="1534.5" cy="225.5" r="5.9" fill="#000080" fill-opacity="0.6"/>
<circle cx="1542" cy="221.7" r="5.9" fill="#000080" fill-opacity="0.6"/>
<circle cx="1549.5" cy="222.6" r="5.9" fill="#000080" fill-opacity="0.6"/>
<circle cx="1555.2" cy="223.6" r="5.9" fill="#000080" fill-opacity="0.6"/>
<circle cx="1532.6" cy="230.2" r="5.9" fill="#000080" fill-opacity="0.6"/>
<circle cx="1536.4" cy="234.8" r="5.9" fill="#000080" fill-opacity="0.6"/>
<circle cx="1527.9" cy="236.7" r="5.9" fill="#000080" fill-opacity="0.6"/>
<circle cx="1557.1" cy="232" r="5.9" fill="#000080" fill-opacity="0.6"/>
<circle cx="1568.3" cy="233.5" r="5.9" fill="#000080" fill-opacity="0.6"/>
<circle cx="1565.5" cy="240.5" r="5.9" fill="#000080" fill-opacity="0.6"/>
<circle cx="1544.8" cy="241.4" r="5.9" fill="#000080" fill-opacity="0.6"/>
<circle cx="1536.4" cy="241.4" r="5.9" fill="#000080" fill-opacity="0.6"/>
<circle cx="1554.2" cy="244.2" r="5.9" fill="#000080" fill-opacity="0.6"/>
<circle cx="1507.3" cy="235.8" r="5.9" fill="#000080" fill-opacity="0.6"/>
<circle cx="1506.3" cy="240.5" r="5.9" fill="#000080" fill-opacity="0.6"/>
<circle cx="1518.5" cy="239.5" r="5.9" fill="#000080" fill-opacity="0.6"/>
<circle cx="1512" cy="246.1" r="5.9" fill="#000080" fill-opacity="0.6"/>
<circle cx="1515.7" cy="253.6" r="5.9" fill="#000080" fill-opacity="0.6"/>
<circle cx="1525.1" cy="250.8" r="5.9" fill="#000080" fill-opacity="0.6"/>
<circle cx="1520.4" cy="252.7" r="5.9" fill="#000080" fill-opacity="0.6"/>
<circle cx="1538.3" cy="245.2" r="5.9" fill="#000080" fill-opacity="0.6"/>
<circle cx="1541.1" cy="252.7" r="5.9" fill="#000080" fill-opacity="0.6"/>
<circle cx="1547.7" cy="258.3" r="5.9" fill="#000080" fill-opacity="0.6"/>
<circle cx="1530.8" cy="260.2" r="5.9" fill="#000080" fill-opacity="0.6"/>
<circle cx="1534.5" cy="264" r="5.9" fill="#000080" fill-opacity="0.6"/>
<circle cx="1512.9" cy="261.2" r="5.9" fill="#000080" fill-opacity="0.6"/>
<circle cx="1553.3" cy="262.1" r="5.9" fill="#000080" fill-opacity="0.6"/>
<circle cx="1571.2" cy="260.2" r="5.9" fill="#000080" fill-opacity="0.6"/>
<circle cx="1576.8" cy="263" r="5.9" fill="#000080" fill-opacity="0.6"/>
<circle cx="1568.3" cy="265.9" r="5.9" fill="#000080" fill-opacity="0.6"/>
<circle cx="1610.6" cy="235.4" r="5.9" fill="#000080" fill-opacity="0.6"/>
<circle cx="1610.6" cy="244.8" r="5.9" fill="#000080" fill-opacity="0.6"/>
<circle cx="1610.6" cy="265.5" r="5.9" fill="#000080" fill-opacity="0.6"/>
<circle cx="1382.3" cy="266.6" r="5.9" fill="#000080" fill-opacity="0.6"/>
<circle cx="1371" cy="276" r="5.9" fill="#000080" fill-opacity="0.6"/>
<circle cx="1399.8" cy="261.5" r="5.9" fill="#000080" fill-opacity="0.6"/>
<circle cx="1425.5" cy="261.9" r="5.9" fill="#000080" fill-opacity="0.6"/>
<circle cx="1432.1" cy="260" r="5.9" fill="#000080" fill-opacity="0.6"/>
<circle cx="1457.5" cy="265.6" r="5.9" fill="#000080" fill-opacity="0.6"/>
<circle cx="1476.3" cy="267.5" r="5.9" fill="#000080" fill-opacity="0.6"/>
<circle cx="1393" cy="293.5" r="5.9" fill="#000080" fill-opacity="0.6"/>
<circle cx="1405.8" cy="300.4" r="5.9" fill="#000080" fill-opacity="0.6"/>
<circle cx="1437.4" cy="294.8" r="5.9" fill="#000080" fill-opacity="0.6"/>
<circle cx="1433.6" cy="302.3" r="5.9" fill="#000080" fill-opacity="0.6"/>
<circle cx="1432.1" cy="312.3" r="5.9" fill="#000080" fill-opacity="0.6"/>
<circle cx="1459.7" cy="295.7" r="5.9" fill="#000080" fill-opacity="0.6"/>
<circle cx="1456.5" cy="311.7" r="5.9" fill="#000080" fill-opacity="0.6"/>
<circle cx="1472.5" cy="302.3" r="5.9" fill="#000080" fill-opacity="0.6"/>
<circle cx="1471.6" cy="320.2" r="5.9" fill="#000080" fill-opacity="0.6"/>
<circle cx="1475.3" cy="335.2" r="5.9" fill="#000080" fill-opacity="0.6"/>
<circle cx="1353.5" cy="327.7" r="5.9" fill="#000080" fill-opacity="0.6"/>
<circle cx="1406.7" cy="324.8" r="5.9" fill="#000080" fill-opacity="0.6"/>
<circle cx="1414.2" cy="327.7" r="5.9" fill="#000080" fill-opacity="0.6"/>
<circle cx="1426.8" cy="328.6" r="5.9" fill="#000080" fill-opacity="0.6"/>
<circle cx="1431.5" cy="333.3" r="5.9" fill="#000080" fill-opacity="0.6"/>
<circle cx="1389.8" cy="341.8" r="5.9" fill="#000080" fill-opacity="0.6"/>
<circle cx="1400.2" cy="341.8" r="5.9" fill="#000080" fill-opacity="0.6"/>
<circle cx="1428" cy="349.8" r="5.9" fill="#000080" fill-opacity="0.6"/>
<circle cx="1445.6" cy="349.3" r="5.9" fill="#000080" fill-opacity="0.6"/>
<circle cx="1434" cy="358.7" r="5.9" fill="#000080" fill-opacity="0.6"/>
<circle cx="1436.8" cy="165.4" r="5.9" fill="#000080" fill-opacity="0.6"/>
<circle cx="1510.9" cy="163" r="5.9" fill="#000080" fill-opacity="0.6"/>
<circle cx="1558.6" cy="141.6" r="5.9" fill="#000080" fill-opacity="0.6"/>
<circle cx="1563" cy="144.7" r="5.9" fill="#000080" fill-opacity="0.6"/>
<circle cx="1554.8" cy="158.8" r="5.9" fill="#000080" fill-opacity="0.6"/>
<circle cx="1559.3" cy="160.7" r="5.9" fill="#000080" fill-opacity="0.6"/>
<circle cx="1323.6" cy="259.5" r="5.9" fill="#000080" fill-opacity="0.6"/>
<circle cx="1436.8" cy="257.9" r="5.9" fill="#000080" fill-opacity="0.6"/>
<circle cx="1455.2" cy="235.6" r="5.9" fill="#000080" fill-opacity="0.6"/>
<circle cx="1470.9" cy="237.9" r="5.9" fill="#000080" fill-opacity="0.6"/>
<circle cx="1506.2" cy="246.1" r="5.9" fill="#000080" fill-opacity="0.6"/>
<circle cx="1512" cy="273.6" r="5.9" fill="#000080" fill-opacity="0.6"/>
<circle cx="1537.9" cy="228.5" r="5.9" fill="#000080" fill-opacity="0.6"/>
<circle cx="1530.8" cy="270.3" r="5.9" fill="#000080" fill-opacity="0.6"/>
<circle cx="1574.3" cy="267.3" r="5.9" fill="#000080" fill-opacity="0.6"/>
<circle cx="1545" cy="275.5" r="5.9" fill="#000080" fill-opacity="0.6"/>
<circle cx="1559" cy="275" r="5.9" fill="#000080" fill-opacity="0.6"/>
<circle cx="1569.6" cy="276.7" r="5.9" fill="#000080" fill-opacity="0.6"/>
<circle cx="1574.3" cy="276.7" r="5.9" fill="#000080" fill-opacity="0.6"/>
<circle cx="1573.2" cy="282.6" r="5.9" fill="#000080" fill-opacity="0.6"/>
<circle cx="1494.4" cy="283.7" r="5.9" fill="#000080" fill-opacity="0.6"/>
<circle cx="1494.4" cy="287.7" r="5.9" fill="#000080" fill-opacity="0.6"/>
<circle cx="1505.7" cy="287.3" r="5.9" fill="#000080" fill-opacity="0.6"/>
<circle cx="1490.2" cy="297.8" r="5.9" fill="#000080" fill-opacity="0.6"/>
<circle cx="1528" cy="292" r="5.9" fill="#000080" fill-opacity="0.6"/>
<circle cx="1545" cy="292" r="5.9" fill="#000080" fill-opacity="0.6"/>
<circle cx="1537.9" cy="297.1" r="5.9" fill="#000080" fill-opacity="0.6"/>
<circle cx="1530.8" cy="303.2" r="5.9" fill="#000080" fill-opacity="0.6"/>
<circle cx="1553.9" cy="297.8" r="5.9" fill="#000080" fill-opacity="0.6"/>
<circle cx="1560.2" cy="299" r="5.9" fill="#000080" fill-opacity="0.6"/>
<circle cx="1576.7" cy="293.1" r="5.9" fill="#000080" fill-opacity="0.6"/>
<circle cx="1566.1" cy="303.7" r="5.9" fill="#000080" fill-opacity="0.6"/>
<circle cx="1610.8" cy="276" r="5.9" fill="#000080" fill-opacity="0.6"/>
<circle cx="1610.8" cy="288.5" r="5.9" fill="#000080" fill-opacity="0.6"/>
<circle cx="1610.8" cy="291.5" r="5.9" fill="#000080" fill-opacity="0.6"/>
<circle cx="1610.8" cy="294.5" r="5.9" fill="#000080" fill-opacity="0.6"/>
<circle cx="1610.8" cy="300.2" r="5.9" fill="#000080" fill-opacity="0.6"/>
<circle cx="1504.3" cy="309.6" r="5.9" fill="#000080" fill-opacity="0.6"/>
<circle cx="1492.8" cy="319.2" r="5.9" fill="#000080" fill-opacity="0.6"/>
<circle cx="1546.1" cy="313.3" r="5.9" fill="#000080" fill-opacity="0.6"/>
<circle cx="1530.1" cy="324.4" r="5.9" fill="#000080" fill-opacity="0.6"/>
<circle cx="1559" cy="322" r="5.9" fill="#000080" fill-opacity="0.6"/>
<circle cx="1398.8" cy="356.6" r="5.9" fill="#000080" fill-opacity="0.6"/>
<circle cx="1387" cy="369.7" r="5.9" fill="#000080" fill-opacity="0.6"/>
<circle cx="1362.8" cy="372.6" r="5.9" fill="#000080" fill-opacity="0.6"/>
<circle cx="1310.6" cy="372.1" r="5.9" fill="#000080" fill-opacity="0.6"/>
<circle cx="1505.5" cy="358.9" r="5.9" fill="#000080" fill-opacity="0.6"/>
<circle cx="1456.3" cy="390.2" r="5.9" fill="#000080" fill-opacity="0.6"/>
<circle cx="1430.6" cy="425.4" r="5.9" fill="#000080" fill-opacity="0.6"/>
<circle cx="1531" cy="222" r="5.9" fill="#000080" fill-opacity="0.6"/>
<circle cx="1535" cy="228" r="5.9" fill="#000080" fill-opacity="0.6"/>
<circle cx="1538" cy="233" r="5.9" fill="#000080" fill-opacity="0.6"/>
<circle cx="1533" cy="238" r="5.9" fill="#000080" fill-opacity="0.6"/>
<circle cx="1537" cy="244" r="5.9" fill="#000080" fill-opacity="0.6"/>
<circle cx="1534" cy="250" r="5.9" fill="#000080" fill-opacity="0.6"/>
<circle cx="1539" cy="256" r="5.9" fill="#000080" fill-opacity="0.6"/>
<circle cx="1536" cy="262" r="5.9" fill="#000080" fill-opacity="0.6"/>
<circle cx="1530" cy="246" r="5.9" fill="#000080" fill-opacity="0.6"/>
<circle cx="1541" cy="240" r="5.9" fill="#000080" fill-opacity="0.6"/>
<circle cx="1549" cy="226" r="5.9" fill="#000080" fill-opacity="0.6"/>
<circle cx="1552" cy="194" r="5.9" fill="#000080" fill-opacity="0.6"/>
<circle cx="1554.5" cy="199.5" r="5.9" fill="#000080" fill-opacity="0.6"/>
<circle cx="1558" cy="255.5" r="5.9" fill="#ee7700" fill-opacity="0.6"/>
<circle cx="1481.9" cy="250.8" r="5.9" fill="#ee7700" fill-opacity="0.6"/>
<circle cx="1504.4" cy="264.9" r="5.9" fill="#ee7700" fill-opacity="0.6"/>
<circle cx="1411.4" cy="265.6" r="5.9" fill="#ee7700" fill-opacity="0.6"/>
<circle cx="1417.1" cy="274.1" r="5.9" fill="#ee7700" fill-opacity="0.6"/>
<circle cx="1422.7" cy="276" r="5.9" fill="#ee7700" fill-opacity="0.6"/>
<circle cx="1421.8" cy="283.5" r="5.9" fill="#ee7700" fill-opacity="0.6"/>
<circle cx="1439.6" cy="262.8" r="5.9" fill="#ee7700" fill-opacity="0.6"/>
<circle cx="1446.8" cy="271.3" r="5.9" fill="#ee7700" fill-opacity="0.6"/>
<circle cx="1450.9" cy="265.6" r="5.9" fill="#ee7700" fill-opacity="0.6"/>
<circle cx="1462.2" cy="274.1" r="5.9" fill="#ee7700" fill-opacity="0.6"/>
<circle cx="1463.1" cy="260.9" r="5.9" fill="#ee7700" fill-opacity="0.6"/>
<circle cx="1474.4" cy="262.8" r="5.9" fill="#ee7700" fill-opacity="0.6"/>
<circle cx="1460.3" cy="287.3" r="5.9" fill="#ee7700" fill-opacity="0.6"/>
<circle cx="1449" cy="298.5" r="5.9" fill="#ee7700" fill-opacity="0.6"/>
<circle cx="1449" cy="310.4" r="5.9" fill="#ee7700" fill-opacity="0.6"/>
<circle cx="1453.7" cy="309.2" r="5.9" fill="#ee7700" fill-opacity="0.6"/>
<circle cx="1465" cy="316.4" r="5.9" fill="#ee7700" fill-opacity="0.6"/>
<circle cx="1469.7" cy="325.8" r="5.9" fill="#ee7700" fill-opacity="0.6"/>
<circle cx="1475.3" cy="322" r="5.9" fill="#ee7700" fill-opacity="0.6"/>
<circle cx="1478.2" cy="306.1" r="5.9" fill="#ee7700" fill-opacity="0.6"/>
<circle cx="1411.4" cy="290.1" r="5.9" fill="#ee7700" fill-opacity="0.6"/>
<circle cx="1401.1" cy="294.8" r="5.9" fill="#ee7700" fill-opacity="0.6"/>
<circle cx="1423.6" cy="292" r="5.9" fill="#ee7700" fill-opacity="0.6"/>
<circle cx="1417.1" cy="302.9" r="5.9" fill="#ee7700" fill-opacity="0.6"/>
<circle cx="1432.1" cy="297.6" r="5.9" fill="#ee7700" fill-opacity="0.6"/>
<circle cx="1433" cy="313.6" r="5.9" fill="#ee7700" fill-opacity="0.6"/>
<circle cx="1378" cy="304.5" r="5.9" fill="#ee7700" fill-opacity="0.6"/>
<circle cx="1358.4" cy="316.4" r="5.9" fill="#ee7700" fill-opacity="0.6"/>
<circle cx="1366.3" cy="318.3" r="5.9" fill="#ee7700" fill-opacity="0.6"/>
<circle cx="1372.3" cy="320.5" r="5.9" fill="#ee7700" fill-opacity="0.6"/>
<circle cx="1392.6" cy="315.5" r="5.9" fill="#ee7700" fill-opacity="0.6"/>
<circle cx="1390.8" cy="322" r="5.9" fill="#ee7700" fill-opacity="0.6"/>
<circle cx="1400.2" cy="322" r="5.9" fill="#ee7700" fill-opacity="0.6"/>
<circle cx="1425" cy="320.5" r="5.9" fill="#ee7700" fill-opacity="0.6"/>
<circle cx="1438.7" cy="323" r="5.9" fill="#ee7700" fill-opacity="0.6"/>
<circle cx="1443.4" cy="327.3" r="5.9" fill="#ee7700" fill-opacity="0.6"/>
<circle cx="1453.7" cy="332" r="5.9" fill="#ee7700" fill-opacity="0.6"/>
<circle cx="1395.1" cy="332.9" r="5.9" fill="#ee7700" fill-opacity="0.6"/>
<circle cx="1405.8" cy="334.2" r="5.9" fill="#ee7700" fill-opacity="0.6"/>
<circle cx="1407.7" cy="337.1" r="5.9" fill="#ee7700" fill-opacity="0.6"/>
<circle cx="1420.8" cy="340.8" r="5.9" fill="#ee7700" fill-opacity="0.6"/>
<circle cx="1432.1" cy="337.1" r="5.9" fill="#ee7700" fill-opacity="0.6"/>
<circle cx="1374.8" cy="339.9" r="5.9" fill="#ee7700" fill-opacity="0.6"/>
<circle cx="1375.7" cy="345.5" r="5.9" fill="#ee7700" fill-opacity="0.6"/>
<circle cx="1383.2" cy="347.4" r="5.9" fill="#ee7700" fill-opacity="0.6"/>
<circle cx="1357.9" cy="348.3" r="5.9" fill="#ee7700" fill-opacity="0.6"/>
<circle cx="1362.2" cy="351.2" r="5.9" fill="#ee7700" fill-opacity="0.6"/>
<circle cx="1399.2" cy="355.9" r="5.9" fill="#ee7700" fill-opacity="0.6"/>
<circle cx="1441.5" cy="355.9" r="5.9" fill="#ee7700" fill-opacity="0.6"/>
<circle cx="1322.4" cy="277.4" r="5.9" fill="#ee7700" fill-opacity="0.6"/>
<circle cx="1465.7" cy="228.5" r="5.9" fill="#ee7700" fill-opacity="0.6"/>
<circle cx="1474.9" cy="239.1" r="5.9" fill="#ee7700" fill-opacity="0.6"/>
<circle cx="1427.4" cy="242.1" r="5.9" fill="#ee7700" fill-opacity="0.6"/>
<circle cx="1401.6" cy="247.8" r="5.9" fill="#ee7700" fill-opacity="0.6"/>
<circle cx="1417.3" cy="251.5" r="5.9" fill="#ee7700" fill-opacity="0.6"/>
<circle cx="1442.2" cy="251.5" r="5.9" fill="#ee7700" fill-opacity="0.6"/>
<circle cx="1410.3" cy="258.6" r="5.9" fill="#ee7700" fill-opacity="0.6"/>
<circle cx="1513.7" cy="283.3" r="5.9" fill="#ee7700" fill-opacity="0.6"/>
<circle cx="1421.6" cy="296.2" r="5.9" fill="#ee7700" fill-opacity="0.6"/>
<circle cx="1416.9" cy="326.7" r="5.9" fill="#ee7700" fill-opacity="0.6"/>
<circle cx="1405.1" cy="325.6" r="5.9" fill="#ee7700" fill-opacity="0.6"/>
<circle cx="1335.8" cy="360.3" r="5.9" fill="#ee7700" fill-opacity="0.6"/>
<circle cx="1358.6" cy="365" r="5.9" fill="#ee7700" fill-opacity="0.6"/>
<circle cx="1400.4" cy="365.5" r="5.9" fill="#ee7700" fill-opacity="0.6"/>
<circle cx="1409.8" cy="365" r="5.9" fill="#ee7700" fill-opacity="0.6"/>
<circle cx="1418" cy="363.6" r="5.9" fill="#ee7700" fill-opacity="0.6"/>
<circle cx="1425.1" cy="362" r="5.9" fill="#ee7700" fill-opacity="0.6"/>
<circle cx="1426.7" cy="370.7" r="5.9" fill="#ee7700" fill-opacity="0.6"/>
<circle cx="1372.2" cy="373" r="5.9" fill="#ee7700" fill-opacity="0.6"/>
<circle cx="1379.3" cy="372.1" r="5.9" fill="#ee7700" fill-opacity="0.6"/>
<circle cx="1399.7" cy="374.2" r="5.9" fill="#ee7700" fill-opacity="0.6"/>
<circle cx="1362.8" cy="390.2" r="5.9" fill="#ee7700" fill-opacity="0.6"/>
<circle cx="1369.9" cy="393.7" r="5.9" fill="#ee7700" fill-opacity="0.6"/>
<circle cx="1400.4" cy="390.2" r="5.9" fill="#ee7700" fill-opacity="0.6"/>
<circle cx="1472.8" cy="389.5" r="5.9" fill="#ee7700" fill-opacity="0.6"/>
<circle cx="1361.8" cy="427" r="5.9" fill="#ee7700" fill-opacity="0.6"/>
<circle cx="1398.1" cy="419.9" r="5.9" fill="#ee7700" fill-opacity="0.6"/>
<circle cx="1453.3" cy="416.3" r="5.9" fill="#ee7700" fill-opacity="0.6"/>
<circle cx="1565.2" cy="74.2" r="5.9" fill="#ee7700" fill-opacity="0.6"/>
<circle cx="1406.4" cy="334.4" r="5.9" fill="#ee7700" fill-opacity="0.6"/>
<circle cx="1374.4" cy="340.5" r="5.9" fill="#ee7700" fill-opacity="0.6"/>
<circle cx="1424" cy="294.1" r="5.9" fill="#ee7700" fill-opacity="0.6"/>
<circle cx="1437.4" cy="323" r="5.9" fill="#ee7700" fill-opacity="0.6"/>
<circle cx="1413" cy="293" r="5.9" fill="#ee7700" fill-opacity="0.6"/>
</svg>
</body></html>
